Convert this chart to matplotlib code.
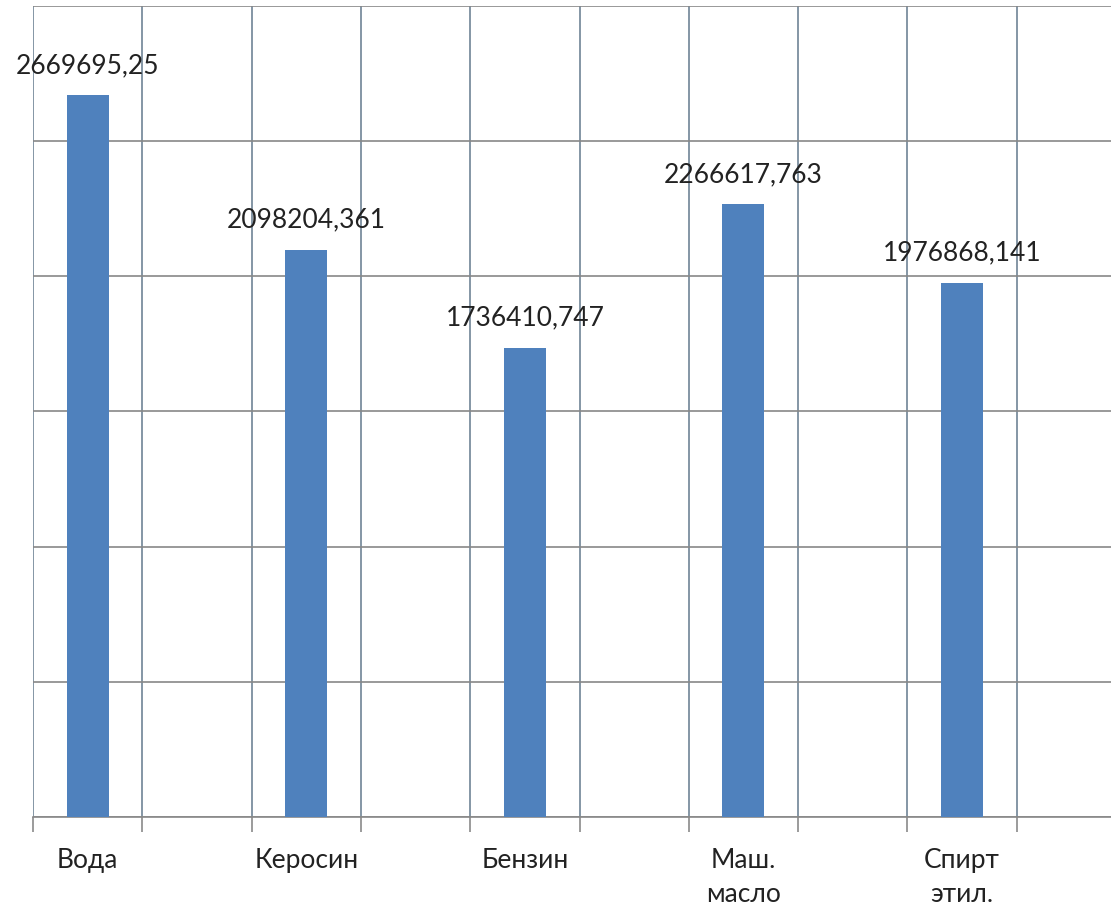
import matplotlib
matplotlib.use("Agg")
import matplotlib.pyplot as plt
from matplotlib.ticker import FixedLocator, MultipleLocator

# Data
categories = ["Вода", "Керосин", "Бензин", "Маш.\nмасло", "Спирт\nэтил."]
values = [2669695.25, 2098204.361, 1736410.747, 2266617.763, 1976868.141]

plt.rcParams["font.family"] = ["Lato", "DejaVu Sans"]

W, H = 1111, 905
fig = plt.figure(figsize=(W / 100, H / 100), dpi=100)
fig.patch.set_facecolor("white")

n_slots = 2 * len(categories)
slot_px = 109.3
ax = fig.add_axes([33 / W, 88 / H, n_slots * slot_px / W, 811 / H])

positions = [2 * i for i in range(len(categories))]
bar_color = "#4F81BD"
ax.bar(positions, values, width=0.385, color=bar_color, zorder=3)

for x, v in zip(positions, values):
    ax.annotate(str(v).replace(".", ","), (x, v), xytext=(0, 16),
                textcoords="offset points", ha="center", va="baseline",
                fontsize=19, color="#222222")

ax.set_xlim(-0.5, n_slots - 0.5)
ax.set_ylim(0, 3_000_000)

# Gridlines at slot boundaries and every 500 000
ax.xaxis.set_major_locator(FixedLocator([k - 0.5 for k in range(n_slots + 1)]))
ax.xaxis.set_minor_locator(FixedLocator(positions))
ax.set_xticklabels([], minor=False)
ax.set_xticks(positions, categories, minor=True)
ax.tick_params(axis="x", which="major", length=11, width=1.1, color="#808080",
               direction="out")
ax.tick_params(axis="x", which="minor", length=0, pad=22, labelsize=19,
               labelcolor="#222222")
ax.yaxis.set_major_locator(MultipleLocator(500_000))
ax.tick_params(axis="y", length=0, labelleft=False)

ax.grid(True, axis="y", color="#888888", linewidth=1.2)
ax.grid(True, axis="x", which="major", color="#6f8496", linewidth=1.2)
ax.set_axisbelow(True)

for s in ["top", "right", "left"]:
    ax.spines[s].set_visible(False)
ax.spines["bottom"].set_color("#888888")
ax.spines["bottom"].set_linewidth(1.2)

for lbl in ax.get_xticklabels(minor=True):
    lbl.set_linespacing(1.45)

fig.savefig("out.png", dpi=100, facecolor="white")
